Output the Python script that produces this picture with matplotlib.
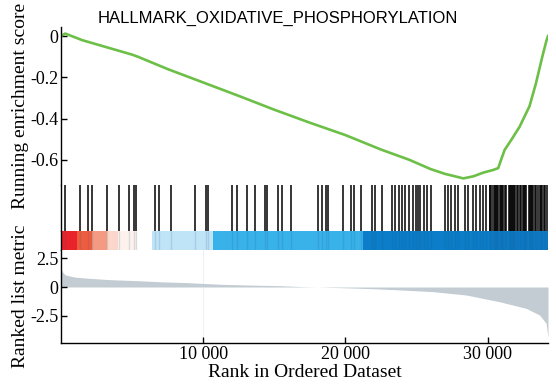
import matplotlib
matplotlib.use('Agg')
import matplotlib.pyplot as plt

# running enrichment score (rank, score)
es_rank = [0, 300, 1500, 3000, 5000, 5400, 7500, 10000, 12500, 15000, 17500,
           20000, 22500, 24500, 26000, 27000, 28300, 29000, 29700, 30400,
           30750, 30950, 31200, 31700, 32250, 32600, 32950, 33400, 33850,
           34150, 34250]
es_score = [0.0, 0.012, -0.02, -0.05, -0.09, -0.10, -0.16, -0.225, -0.29,
            -0.357, -0.42, -0.48, -0.55, -0.60, -0.645, -0.668, -0.69, -0.68,
            -0.662, -0.649, -0.64, -0.60, -0.552, -0.50, -0.44, -0.39, -0.34,
            -0.23, -0.10, -0.02, 0.0]

# gene set hit positions
hits = [316, 1368, 1881, 2189, 3242, 4105, 4758, 5109, 5277, 6632, 6912, 7754,
        9439, 10211, 10330, 12056, 12365, 13067, 13649, 14351, 14491, 15242,
        15565, 16175, 18049, 18330, 18632, 18751, 19846, 20365, 20596, 21088,
        21881, 22070, 22582, 23312, 23523, 23754, 23986, 24175, 24477, 24758,
        25000, 25088, 25228, 25530, 25768, 26000, 26982, 27214, 27404, 27684,
        27916, 28386, 28618, 28968, 29207, 29439, 29670, 29909, 30140, 30200,
        30280, 30440, 30520, 30600, 30680, 30760, 30840, 30920, 31000, 31080,
        31250, 31320, 31480, 31560, 31640, 31720, 31800, 31880, 31960, 32040,
        32120, 32300, 32380, 32460, 32540, 32620, 32700, 32880, 32960, 33040,
        33120, 33200, 33360, 33440, 33520, 33700, 33780, 33860, 33940, 34010,
        34160]

# colour bar segments (start rank, end rank, colour)
band_start = [0, 1150, 2200, 3260, 4040, 5370, 6430, 10700, 21230]
band_end = [1150, 2200, 3260, 4040, 5370, 6430, 10700, 21230, 34250]
band_color = ['#e8242a', '#ee5c40', '#f59a82', '#fbd6ca', '#fdf1ec', '#ffffff',
              '#bfe4f7', '#38b2e9', '#0c7dc8']

# ranked list metric
metric_rank = [0, 100, 316, 1000, 1950, 3500, 5460, 7000, 8970, 11310, 13500,
               15520, 17000, 18000, 20300, 22000, 23800, 26160, 28500, 30840,
               32710, 33650, 34120, 34250]
metric_value = [1.6, 1.3, 1.03, 0.85, 0.75, 0.63, 0.54, 0.45, 0.37, 0.23, 0.16,
                0.11, 0.03, 0.0, -0.08, -0.15, -0.25, -0.4, -0.69, -1.27, -1.84,
                -2.41, -3.13, -4.4]

xmax = 34250
serif = 'Liberation Serif'

fig = plt.figure(figsize=(5.56, 3.85), dpi=100)
left, width = 0.1097, 0.8759
ax1 = fig.add_axes([left, 0.5195, width, 0.4104])
ax2 = fig.add_axes([left, 0.4, width, 0.1195])
ax3 = fig.add_axes([left, 0.3506, width, 0.0494])
ax4 = fig.add_axes([left, 0.1091, width, 0.2415])

for ax in (ax1, ax2, ax3, ax4):
    ax.set_xlim(0, xmax)
    for s in ('top', 'right', 'bottom'):
        ax.spines[s].set_visible(False)
    ax.spines['left'].set_linewidth(1.0)
    ax.tick_params(direction='in', length=4, width=1.0, labelsize=13,
                   labelfontfamily=serif, pad=2)
    ax.set_xticks([])

# top: running ES
ax1.plot(es_rank, es_score, color='#6cbf47', lw=1.9)
ax1.set_ylim(-0.722, 0.044)
ax1.set_yticks([0, -0.2, -0.4, -0.6])
ax1.set_yticklabels(['0', '-0.2', '-0.4', '-0.6'])
ax1.set_ylabel('Running enrichment score', fontsize=14, family=serif, labelpad=1)
ax1.set_title('HALLMARK_OXIDATIVE_PHOSPHORYLATION', fontsize=12,
              family='Liberation Sans', pad=3, x=0.445)

# hits
ax2.vlines(hits, 0, 1, color='black', lw=1.1)
ax2.set_ylim(0, 1)
ax2.set_yticks([])

# colour bar, with faint hit stripes on top
for a, b, c in zip(band_start, band_end, band_color):
    ax3.axvspan(a, b, color=c, lw=0)
ax3.vlines(hits, 0, 1, color='#1a4f80', lw=1.0, alpha=0.15)
ax3.set_ylim(0, 1)
ax3.set_yticks([])

# ranked metric
ax4.fill_between(metric_rank, metric_value, 0, color='#c3ccd2', lw=0)
ax4.axvline(10000, color='#eeeeee', lw=0.6, zorder=0)
ax4.set_ylim(-4.83, 3.19)
ax4.set_yticks([2.5, 0, -2.5])
ax4.set_yticklabels(['2.5', '0', '-2.5'])
ax4.spines['bottom'].set_visible(True)
ax4.spines['bottom'].set_linewidth(1.0)
ax4.set_xticks([10000, 20000, 30000])
ax4.set_xticklabels(['10 000', '20 000', '30 000'])
ax4.set_ylabel('Ranked list metric', fontsize=14, family=serif, labelpad=1)
ax4.set_xlabel('Rank in Ordered Dataset', fontsize=14, family=serif, labelpad=1)

fig.savefig('out.png', dpi=100)
